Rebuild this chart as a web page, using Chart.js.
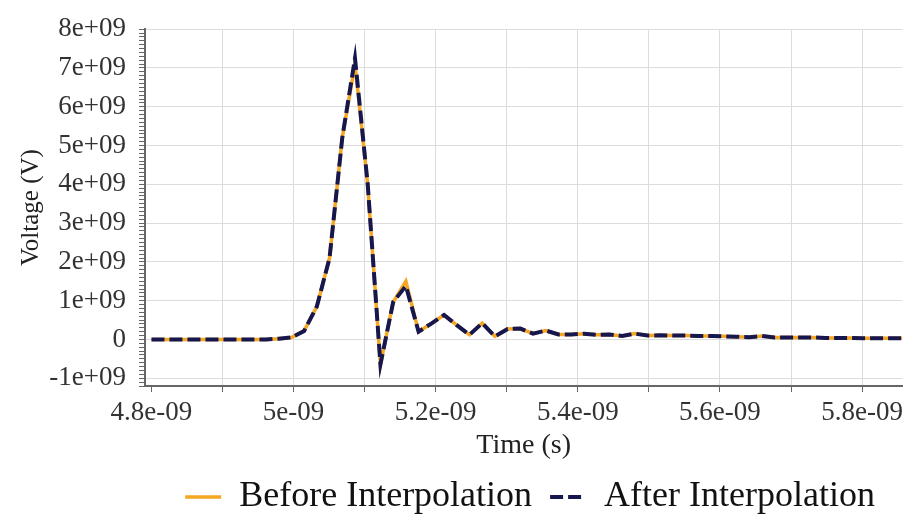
<!DOCTYPE html>
<html><head><meta charset="utf-8">
<script src="https://cdn.jsdelivr.net/npm/chart.js@4"></script>
<style>html,body{margin:0;padding:0;background:#fff;overflow:hidden}#wrap{width:908px;height:514px}</style>
</head><body><div id="wrap"><canvas id="c" width="908" height="514"></canvas></div>
<script>
// sample times (ns)
const timeNs = [4.8000,4.8179,4.8358,4.8537,4.8716,4.8895,4.9074,4.9253,4.9432,4.9611,
  4.9790,4.9969,5.0148,5.0327,5.0506,5.0685,5.0864,5.1043,5.1222,5.1401,
  5.1580,5.1759,5.1938,5.2117,5.2296,5.2475,5.2654,5.2833,5.3012,5.3191,
  5.3370,5.3549,5.3728,5.3907,5.4086,5.4265,5.4444,5.4623,5.4802,5.4981,
  5.5160,5.5339,5.5518,5.5697,5.5876,5.6055,5.6234,5.6413,5.6592,5.6771,
  5.6950,5.7129,5.7308,5.7487,5.7666,5.7845,5.8024,5.8203,5.8382,5.8561];
// voltages in units of 1e9 V
const beforeGV = [0,0,0,0,0,0,0,0,0,0,
  0.02,0.05,0.22,0.85,2.1,5.2,7.1,4.0,-0.64,0.96,
  1.5,0.2,0.41,0.63,0.37,0.12,0.42,0.08,0.27,0.28,
  0.15,0.23,0.13,0.13,0.15,0.12,0.13,0.09,0.15,0.10,
  0.11,0.10,0.10,0.09,0.09,0.08,0.07,0.06,0.09,0.05,
  0.05,0.05,0.05,0.04,0.04,0.04,0.03,0.03,0.03,0.03];
const afterGV = [0,0,0,0,0,0,0,0,0,0,
  0.02,0.05,0.22,0.85,2.1,5.2,7.25,4.0,-0.64,0.96,
  1.38,0.2,0.41,0.63,0.37,0.12,0.42,0.08,0.27,0.28,
  0.15,0.23,0.13,0.13,0.15,0.12,0.13,0.09,0.15,0.10,
  0.11,0.10,0.10,0.09,0.09,0.08,0.07,0.06,0.09,0.05,
  0.05,0.05,0.05,0.04,0.04,0.04,0.03,0.03,0.03,0.03];
const seriesNames = ['Before Interpolation','After Interpolation'];
const xTickLabels = ['4.8e-09','5e-09','5.2e-09','5.4e-09','5.6e-09','5.8e-09'];
const yTickLabels = ['-1e+09','0','1e+09','2e+09','3e+09','4e+09','5e+09','6e+09','7e+09','8e+09'];

const FONT = '"Liberation Serif", "Times New Roman", serif';
const xMajor = xTickLabels.map(Number);
const yMajor = yTickLabels.map(Number);
const xMin = 4.7909e-9, xMax = 5.8567e-9;
const yMin = -1.2e9, yMax = 8e9;

const xTickValues = [];
xMajor.forEach((v, i) => { xTickValues.push(v); if (i < xMajor.length - 1) xTickValues.push((v + xMajor[i + 1]) / 2); });
const yTickValues = [];
for (let k = Math.round(yMin / 1e8); k <= Math.round(yMax / 1e8); k++) yTickValues.push(k * 1e8);

const isXMajor = v => xMajor.findIndex(m => Math.abs(m - v) < 1e-13);
const isYMajor = v => yMajor.findIndex(m => Math.abs(m - v) < 1e6);

const toPts = arr => arr.map((g, i) => ({x: timeNs[i] * 1e-9, y: g * 1e9}));

const legendShift = {
  id: 'legendShift',
  afterLayout: chart => { if (chart.legend) { chart.legend.right -= 14; } }
};

new Chart(document.getElementById('c'), {
  type: 'line',
  plugins: [legendShift],
  data: {
    datasets: [
      {label: seriesNames[0], data: toPts(beforeGV), borderColor: '#f5a623', backgroundColor: '#f5a623',
       borderWidth: 3.5, pointRadius: 0, tension: 0, order: 1},
      {label: seriesNames[1], data: toPts(afterGV), borderColor: '#17174f', backgroundColor: '#17174f',
       borderWidth: 4, borderDash: [13, 5], pointRadius: 0, tension: 0, order: 0}
    ]
  },
  options: {
    responsive: false, animation: false, devicePixelRatio: 1,
    layout: {padding: {left: 0, right: 1, top: 21, bottom: -11}},
    plugins: {
      tooltip: {enabled: false},
      legend: {
        position: 'bottom', align: 'end',
        labels: {
          usePointStyle: true, pointStyle: 'line', pointStyleWidth: 36, padding: 18,
          color: '#111', font: {family: FONT, size: 36},
          generateLabels: chart => {
            const items = Chart.defaults.plugins.legend.labels.generateLabels(chart);
            items.forEach(it => {
              const ds = chart.data.datasets[it.datasetIndex];
              it.lineDash = ds.borderDash || [];
              it.lineWidth = ds.borderWidth;
              it.strokeStyle = ds.borderColor;
              it.pointStyle = 'line';
            });
            return items.sort((a, b) => a.datasetIndex - b.datasetIndex);
          }
        }
      }
    },
    scales: {
      x: {
        type: 'linear', min: xMin, max: xMax,
        afterBuildTicks: s => { s.ticks = xTickValues.map(v => ({value: v})); },
        afterFit: s => { s.height = 75; },
        border: {color: '#666', width: 2},
        grid: {
          color: c => (c.tick && c.tick.value > xMajor[0] + 1e-13) ? '#dcdcdc' : 'rgba(0,0,0,0)',
          tickColor: '#666', tickLength: 6, lineWidth: 1
        },
        ticks: {
          autoSkip: false, maxRotation: 0, minRotation: 0, padding: 5, color: '#333',
          font: {family: FONT, size: 27},
          callback: v => { const i = isXMajor(v); return i >= 0 ? xTickLabels[i] : ''; }
        },
        title: {display: true, text: 'Time (s)', color: '#222', font: {family: FONT, size: 28},
                padding: {top: 0, bottom: -1}}
      },
      y: {
        type: 'linear', min: yMin, max: yMax,
        afterBuildTicks: s => { s.ticks = yTickValues.map(v => ({value: v})); },
        afterFit: s => { s.width = 145; },
        border: {color: '#666', width: 2},
        grid: {
          color: c => (c.tick && isYMajor(c.tick.value) >= 0) ? '#dcdcdc' : 'rgba(0,0,0,0)',
          tickColor: '#666', tickLength: 6, lineWidth: 1
        },
        ticks: {
          autoSkip: false, padding: 13, color: '#333', font: {family: FONT, size: 27},
          callback: v => { const i = isYMajor(v); return i >= 0 ? yTickLabels[i] : ''; }
        },
        title: {display: true, text: 'Voltage (V)', color: '#222', font: {family: FONT, size: 25},
                padding: {top: 16, bottom: 0}}
      }
    }
  }
});
</script></body></html>
